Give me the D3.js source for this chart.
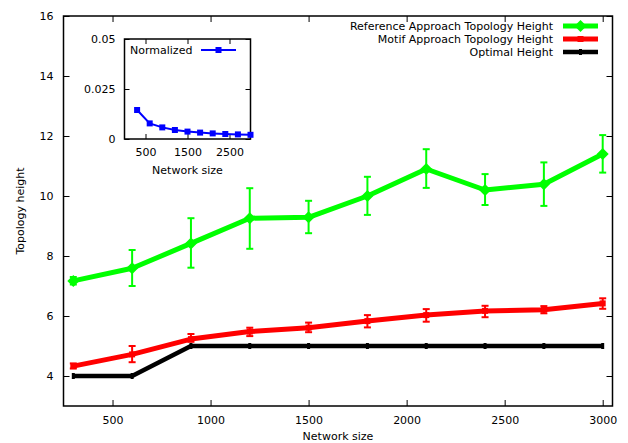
<!DOCTYPE html>
<html>
<head>
<meta charset="utf-8">
<script src="https://cdn.jsdelivr.net/npm/d3@7"></script>
<style>
  body { margin: 0; background: #fff; }
  svg text { font-family: "DejaVu Sans", sans-serif; font-size: 11px; fill: #000; }
</style>
</head>
<body>
<div id="chart"><svg width="628" height="443"></svg></div>
<script>
// network sizes on the x axis
var sizes = [300, 600, 900, 1200, 1500, 1800, 2100, 2400, 2700, 3000];

// reference approach (green) with error range
var refHeight = [7.17, 7.59, 8.42, 9.26, 9.29, 10.0, 10.9, 10.2, 10.39, 11.4];
var refLow    = [7.05, 7.0, 7.61, 8.24, 8.76, 9.37, 10.27, 9.7, 9.67, 10.78];
var refHigh   = [7.3, 8.2, 9.26, 10.26, 9.84, 10.64, 11.56, 10.73, 11.12, 12.03];

// motif approach (red) with error range
var motifHeight = [4.33, 4.72, 5.23, 5.48, 5.61, 5.83, 6.03, 6.17, 6.21, 6.42];
var motifLow    = [4.25, 4.46, 5.14, 5.33, 5.46, 5.62, 5.81, 5.96, 6.09, 6.24];
var motifHigh   = [4.42, 5.0, 5.4, 5.61, 5.78, 6.03, 6.23, 6.34, 6.33, 6.59];

// optimal height (black)
var optimalHeight = [4, 4, 5, 5, 5, 5, 5, 5, 5, 5];

// inset: normalized values
var normalized = [0.0145, 0.0078, 0.0058, 0.0045, 0.0037, 0.0032, 0.0028, 0.0025, 0.0023, 0.0021];

var xTicks = [500, 1000, 1500, 2000, 2500, 3000];
var yTicks = [4, 6, 8, 10, 12, 14, 16];
var insetXTicks = [500, 1500, 2500];
var insetYTicks = [0, 0.025, 0.05];
var insetYLabels = ['0', '0.025', '0.05'];

var legendNames = ['Reference Approach Topology Height', 'Motif Approach Topology Height', 'Optimal Height'];

var fmt = d3.format('d');

function drawChart() {
  var svg = d3.select('#chart svg');

  var left = 63.5, right = 612.5, top = 16, bottom = 406;

  var x = d3.scaleLinear().domain([250, 3050]).range([left, right]);
  var y = d3.scaleLinear().domain([3, 16]).range([bottom, top]);

  var tick = 6;

  // axes: ticks inward, mirrored on top / right
  svg.append('g')
    .attr('transform', 'translate(0,' + bottom + ')')
    .call(d3.axisBottom(x).tickValues(xTicks).tickFormat(fmt).tickSizeInner(-tick).tickSizeOuter(0).tickPadding(10))
  ;
  svg.append('g')
    .attr('transform', 'translate(0,' + top + ')')
    .call(d3.axisTop(x).tickValues(xTicks).tickSizeInner(-tick).tickSizeOuter(0).tickFormat(''))
  ;
  svg.append('g')
    .attr('transform', 'translate(' + left + ',0)')
    .call(d3.axisLeft(y).tickValues(yTicks).tickFormat(fmt).tickSizeInner(-tick).tickSizeOuter(0).tickPadding(10))
  ;
  svg.append('g')
    .attr('transform', 'translate(' + right + ',0)')
    .call(d3.axisRight(y).tickValues(yTicks).tickSizeInner(-tick).tickSizeOuter(0).tickFormat(''))
  ;
  svg.selectAll('.domain').remove();
  svg.selectAll('.tick line').attr('stroke', '#000');
  svg.selectAll('.tick text').style('font-family', '"DejaVu Sans", sans-serif').style('font-size', '11px');

  svg.append('rect')
    .attr('x', left).attr('y', top)
    .attr('width', right - left).attr('height', bottom - top)
    .attr('fill', 'none').attr('stroke', '#000').attr('stroke-width', 1.5)
  ;

  svg.append('text')
    .attr('x', (left + right) / 2).attr('y', 440)
    .attr('text-anchor', 'middle')
    .text('Network size')
  ;
  svg.append('text')
    .attr('transform', 'translate(24,' + ((top + bottom) / 2) + ') rotate(-90)')
    .attr('text-anchor', 'middle')
    .text('Topology height')
  ;

  var series = [
    { vals: refHeight, low: refLow, high: refHigh, color: '#00ff00', width: 5, marker: 'diamond' },
    { vals: motifHeight, low: motifLow, high: motifHigh, color: '#ff0000', width: 5, marker: 'square' },
    { vals: optimalHeight, low: null, high: null, color: '#000', width: 4.5, marker: 'dot' }
  ];

  var line = d3.line()
    .x(function(d) { return x(d[0]); })
    .y(function(d) { return y(d[1]); })
  ;

  var g = svg.append('g');

  series.slice().reverse().forEach(function(s) {
    var pts = sizes.map(function(v, i) { return [v, s.vals[i]]; });
    var sg = g.append('g');
    sg.append('path')
      .datum(pts)
      .attr('d', line)
      .attr('fill', 'none')
      .attr('stroke', s.color)
      .attr('stroke-width', s.width)
      .attr('stroke-linejoin', 'round')
    ;
    if (s.low) {
      sizes.forEach(function(v, i) {
        var cx = x(v);
        var y1 = y(s.low[i]), y2 = y(s.high[i]);
        var eb = sg.append('g').attr('stroke', s.color).attr('stroke-width', 2);
        eb.append('line').attr('x1', cx).attr('x2', cx).attr('y1', y1).attr('y2', y2);
        eb.append('line').attr('x1', cx - 3.5).attr('x2', cx + 3.5).attr('y1', y1).attr('y2', y1);
        eb.append('line').attr('x1', cx - 3.5).attr('x2', cx + 3.5).attr('y1', y2).attr('y2', y2);
      });
    }
    sg.selectAll('path.mk')
      .data(pts)
      .enter()
      .append('path')
      .attr('class', 'mk')
      .attr('transform', function(d) { return 'translate(' + x(d[0]) + ',' + y(d[1]) + ')'; })
      .attr('d', markerPath(s.marker))
      .attr('fill', s.color)
    ;
  });

  // legend
  legendNames.forEach(function(name, i) {
    var ly = 26 + i * 13;
    svg.append('text')
      .attr('x', 553).attr('y', ly + 4)
      .attr('text-anchor', 'end')
      .text(name)
    ;
    var s = series[i];
    svg.append('line')
      .attr('x1', 563).attr('x2', 598).attr('y1', ly).attr('y2', ly)
      .attr('stroke', s.color).attr('stroke-width', s.width)
    ;
    svg.append('path')
      .attr('transform', 'translate(580.5,' + ly + ')')
      .attr('d', markerPath(s.marker))
      .attr('fill', s.color)
    ;
  });

  drawInset(svg);
}

function markerPath(kind) {
  if (kind === 'diamond') return 'M0,-6L6,0L0,6L-6,0Z';
  if (kind === 'square') return 'M-3,-3H3V3H-3Z';
  return 'M-1.5,-3H1.5V3H-1.5Z';
}

function drawInset(svg) {
  var left = 124.5, right = 250.5, top = 39, bottom = 139;

  var x = d3.scaleLinear().domain([0, 3000]).range([left, right]);
  var y = d3.scaleLinear().domain([0, 0.05]).range([bottom, top]);

  var g = svg.append('g');

  g.append('rect')
    .attr('x', left).attr('y', top)
    .attr('width', right - left).attr('height', bottom - top)
    .attr('fill', '#fff')
  ;

  var tick = 5;
  g.append('g')
    .attr('transform', 'translate(0,' + bottom + ')')
    .call(d3.axisBottom(x).tickValues(insetXTicks).tickFormat(fmt).tickSizeInner(-tick).tickSizeOuter(0).tickPadding(9))
  ;
  g.append('g')
    .attr('transform', 'translate(0,' + top + ')')
    .call(d3.axisTop(x).tickValues(insetXTicks).tickSizeInner(-tick).tickSizeOuter(0).tickFormat(''))
  ;
  g.append('g')
    .attr('transform', 'translate(' + left + ',0)')
    .call(d3.axisLeft(y).tickValues(insetYTicks).tickSizeInner(-tick).tickSizeOuter(0).tickPadding(9)
      .tickFormat(function(d, i) { return insetYLabels[i]; }))
  ;
  g.append('g')
    .attr('transform', 'translate(' + right + ',0)')
    .call(d3.axisRight(y).tickValues(insetYTicks).tickSizeInner(-tick).tickSizeOuter(0).tickFormat(''))
  ;
  g.selectAll('.domain').remove();
  g.selectAll('.tick line').attr('stroke', '#000');
  g.selectAll('.tick text').style('font-family', '"DejaVu Sans", sans-serif').style('font-size', '11px');

  g.append('rect')
    .attr('x', left).attr('y', top)
    .attr('width', right - left).attr('height', bottom - top)
    .attr('fill', 'none').attr('stroke', '#000').attr('stroke-width', 1.5)
  ;

  g.append('text')
    .attr('x', (left + right) / 2).attr('y', 174)
    .attr('text-anchor', 'middle')
    .text('Network size')
  ;

  var pts = sizes.map(function(v, i) { return [v, normalized[i]]; });
  var line = d3.line()
    .x(function(d) { return x(d[0]); })
    .y(function(d) { return y(d[1]); })
  ;
  g.append('path')
    .datum(pts)
    .attr('d', line)
    .attr('fill', 'none')
    .attr('stroke', '#0000ff')
    .attr('stroke-width', 2)
  ;
  g.selectAll('rect.mk')
    .data(pts)
    .enter()
    .append('rect')
    .attr('class', 'mk')
    .attr('x', function(d) { return x(d[0]) - 3; })
    .attr('y', function(d) { return y(d[1]) - 3; })
    .attr('width', 6).attr('height', 6)
    .attr('fill', '#0000ff')
  ;

  // inset legend
  g.append('text')
    .attr('x', 130).attr('y', 54)
    .text('Normalized')
  ;
  g.append('line')
    .attr('x1', 201).attr('x2', 236).attr('y1', 50).attr('y2', 50)
    .attr('stroke', '#0000ff').attr('stroke-width', 2)
  ;
  g.append('rect')
    .attr('x', 215.5).attr('y', 47).attr('width', 6).attr('height', 6)
    .attr('fill', '#0000ff')
  ;
}

drawChart();
</script>
</body>
</html>
